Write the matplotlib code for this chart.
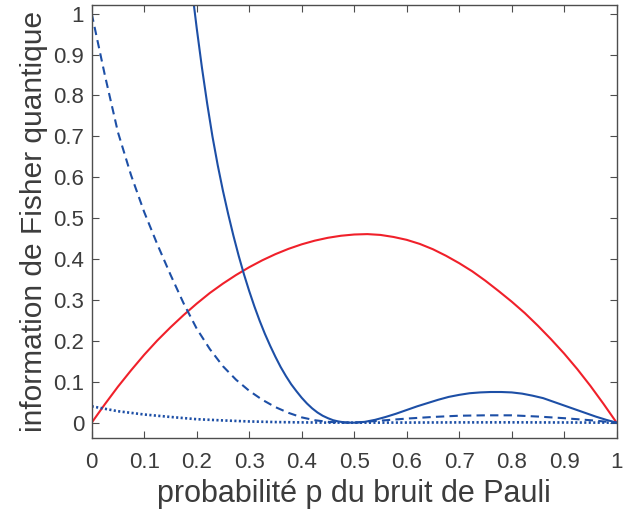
import numpy as np
import matplotlib
matplotlib.use('Agg')
import matplotlib.pyplot as plt

plt.rcParams['font.family'] = ['Liberation Sans', 'DejaVu Sans']

# values
p_red = [0, 0.025, 0.05, 0.075, 0.1, 0.125, 0.15, 0.175, 0.2, 0.225, 0.25, 0.275,
         0.3, 0.325, 0.35, 0.375, 0.4, 0.425, 0.45, 0.475, 0.5, 0.525, 0.55, 0.575,
         0.6, 0.625, 0.65, 0.675, 0.7, 0.725, 0.75, 0.775, 0.8, 0.825, 0.85, 0.875,
         0.9, 0.925, 0.95, 0.975, 1.0]
f_red = [0, 0.045, 0.088, 0.128, 0.166, 0.201, 0.233, 0.263, 0.291, 0.317, 0.340, 0.361,
         0.380, 0.397, 0.412, 0.425, 0.436, 0.445, 0.452, 0.457, 0.460, 0.461, 0.459, 0.454,
         0.447, 0.437, 0.424, 0.408, 0.390, 0.370, 0.347, 0.322, 0.296, 0.268, 0.237, 0.204,
         0.169, 0.131, 0.090, 0.046, 0]

p_solid = [0.18, 0.19, 0.20, 0.21, 0.22, 0.23, 0.24, 0.25, 0.26, 0.27, 0.28, 0.29,
           0.30, 0.31, 0.32, 0.33, 0.34, 0.35, 0.36, 0.37, 0.38, 0.39, 0.40, 0.41,
           0.42, 0.43, 0.44, 0.45, 0.46, 0.47, 0.48, 0.49, 0.50,
           0.52, 0.54, 0.56, 0.58, 0.60, 0.62, 0.64, 0.66, 0.68, 0.70, 0.72,
           0.74, 0.76, 0.78, 0.80, 0.82, 0.84, 0.86, 0.88, 0.90, 0.92, 0.94,
           0.96, 0.98, 1.0]
f_solid = [1.18, 1.07, 0.965, 0.868, 0.780, 0.700, 0.630, 0.567, 0.510, 0.457, 0.408, 0.363,
           0.322, 0.284, 0.249, 0.217, 0.188, 0.161, 0.136, 0.114, 0.094, 0.077, 0.061, 0.047,
           0.035, 0.025, 0.017, 0.011, 0.006, 0.003, 0.001, 0.0002, 0.0,
           0.002, 0.007, 0.014, 0.022, 0.031, 0.040, 0.048, 0.056, 0.063, 0.068, 0.072,
           0.074, 0.075, 0.075, 0.074, 0.071, 0.066, 0.060, 0.051, 0.042, 0.033, 0.024,
           0.015, 0.007, 0]

p_dash = [0, 0.025, 0.05, 0.075, 0.1, 0.125, 0.15, 0.175, 0.2, 0.225, 0.25, 0.275,
          0.3, 0.325, 0.35, 0.375, 0.4, 0.425, 0.45, 0.475, 0.5, 0.55, 0.6, 0.65,
          0.7, 0.75, 0.8, 0.85, 0.9, 0.95, 1.0]
f_dash = [1.0, 0.85, 0.71, 0.605, 0.515, 0.436, 0.362, 0.292, 0.230, 0.180, 0.138, 0.105,
          0.078, 0.056, 0.038, 0.024, 0.013, 0.006, 0.002, 0.0003, 0.0, 0.005, 0.010, 0.014,
          0.017, 0.018, 0.018, 0.015, 0.011, 0.006, 0]

p_dot = [0, 0.05, 0.1, 0.15, 0.2, 0.25, 0.3, 0.35, 0.4, 0.45, 0.5,
         0.6, 0.7, 0.8, 0.9, 1.0]
f_dot = [0.040, 0.028, 0.020, 0.014, 0.0085, 0.0055, 0.003, 0.0015, 0.0007, 0.0002, 0,
         0.0003, 0.0007, 0.0008, 0.0005, 0]

ticks = np.round(np.arange(0, 1.01, 0.1), 1)
tick_labels = ['0', '0.1', '0.2', '0.3', '0.4', '0.5', '0.6', '0.7', '0.8', '0.9', '1']

blue = '#1d4fa6'
red = '#f0202a'
grey = '#3c3c3c'

fig = plt.figure(figsize=(6.39, 5.18), dpi=100)
ax = fig.add_axes([0.1435, 0.154, 0.8215, 0.8363])

ax.plot(p_red, f_red, color=red, lw=1.5)
ax.plot(p_solid, f_solid, color=blue, lw=1.5)
ax.plot(p_dash, f_dash, color=blue, lw=1.5, linestyle=(0, (4, 2.5)))
ax.plot(p_dot, f_dot, color=blue, lw=1.9, linestyle=(0, (0.8, 0.9)))

ax.set_xlim(0, 1)
ax.set_ylim(-0.038, 1.021)
ax.set_xticks(ticks)
ax.set_xticklabels(tick_labels)
ax.set_yticks(ticks)
ax.set_yticklabels(tick_labels)

for s in ax.spines.values():
    s.set_color('#4d4d4d')
    s.set_linewidth(1.0)
ax.tick_params(direction='in', length=5, width=0.8, color='#4d4d4d',
               labelcolor=grey, labelsize=16, top=True, right=True)
ax.tick_params(axis='x', pad=10)
ax.tick_params(axis='y', pad=5.5)

ax.set_xlabel('probabilité p du bruit de Pauli', fontsize=22, color=grey, labelpad=4)
ax.set_ylabel('information de Fisher quantique', fontsize=21.5, color=grey, labelpad=4)

fig.savefig('out.png', dpi=100)
